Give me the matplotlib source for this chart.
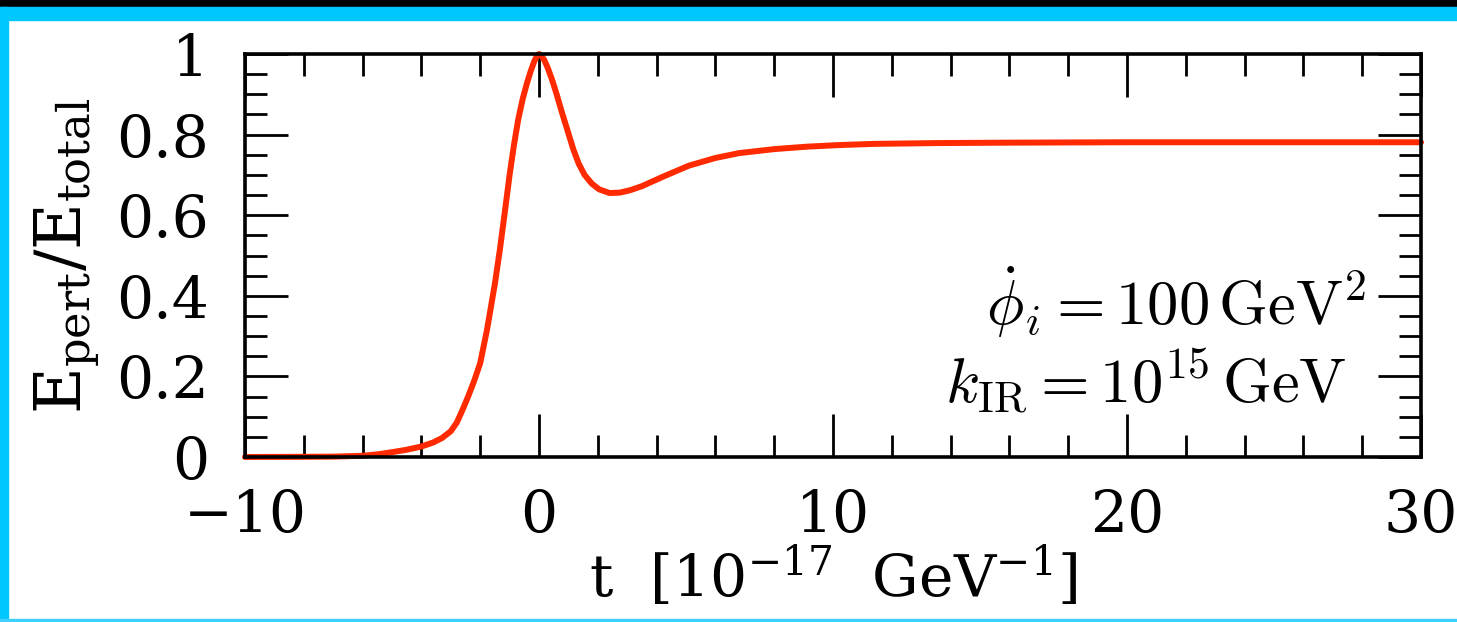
import numpy as np
import matplotlib
matplotlib.use("Agg")
import matplotlib.pyplot as plt
from matplotlib.patches import Rectangle
from matplotlib.ticker import MultipleLocator, FuncFormatter

# values
t = [-10, -8, -7, -6, -5.45, -5, -4.5, -4.0, -3.6, -3.3, -3.0, -2.8, -2.6,
     -2.4, -2.2, -2.0, -1.77, -1.5, -1.33, -1.15, -1.0, -0.85, -0.7, -0.55,
     -0.4, -0.28, -0.16, -0.07, 0.0, 0.08, 0.18, 0.3, 0.45, 0.6, 0.78, 0.95,
     1.16, 1.35, 1.55, 1.8, 2.05, 2.4, 2.75, 3.1, 3.5, 4.2, 5.1, 6.0, 6.8,
     8.0, 9.1, 10.2, 11.4, 13.6, 16, 20, 25, 30]
ratio = [0.0, 0.0005, 0.001, 0.003, 0.007, 0.012, 0.018, 0.026, 0.036, 0.047,
         0.064, 0.085, 0.117, 0.152, 0.19, 0.233, 0.315, 0.43, 0.515, 0.615,
         0.70, 0.775, 0.84, 0.89, 0.93, 0.958, 0.982, 0.995, 1.0, 0.996, 0.985,
         0.965, 0.935, 0.9, 0.855, 0.815, 0.765, 0.728, 0.70, 0.678, 0.664,
         0.655, 0.656, 0.662, 0.672, 0.695, 0.723, 0.742, 0.754, 0.764, 0.77,
         0.774, 0.777, 0.779, 0.78, 0.781, 0.781, 0.781]

fig = plt.figure(figsize=(14.57, 6.22), dpi=100)

# border strips of the slide frame
W, H = 1457, 622
def strip(x0, y0, x1, y1, c):
    fig.patches.append(Rectangle((x0 / W, 1 - y1 / H), (x1 - x0) / W, (y1 - y0) / H,
                                 transform=fig.transFigure, color=c, zorder=0))
strip(0, 0, W, 7, 'black')
strip(0, 7, W, 20, '#00c8ff')
strip(0, 7, 8, H, '#00c8ff')
strip(0, 619, W, H, '#40d0ff')

ax = fig.add_axes([245 / W, 1 - 457 / H, 1176 / W, 403 / H])
ax.plot(t, ratio, color='#ff2a00', lw=4.3, solid_capstyle='round',
        solid_joinstyle='round', clip_on=False)
ax.set_xlim(-10, 30)
ax.set_ylim(0, 1)

ax.xaxis.set_major_locator(MultipleLocator(10))
ax.xaxis.set_minor_locator(MultipleLocator(2))
ax.yaxis.set_major_locator(MultipleLocator(0.2))
ax.yaxis.set_minor_locator(MultipleLocator(0.05))
ax.yaxis.set_major_formatter(FuncFormatter(lambda v, p: '%g' % round(v, 2)))
ax.xaxis.set_major_formatter(FuncFormatter(lambda v, p: ('\u2212%d' % -v) if v < 0 else '%d' % v))

for s in ax.spines.values():
    s.set_linewidth(2.6)
ax.tick_params(which='both', direction='in', top=True, right=True, width=2.0)
ax.tick_params(which='major', length=31, labelsize=42, pad=22)
ax.tick_params(which='minor', length=16)
for lab in ax.get_xticklabels() + ax.get_yticklabels():
    lab.set_family('DejaVu Serif')
ax.tick_params(axis='y', which='major', pad=26)

ax.set_xlabel(r't  [10$^{-17}$  GeV$^{-1}$]', family='DejaVu Serif', fontsize=42,
              math_fontfamily='dejavuserif', labelpad=0)
ax.set_ylabel(r'E$_{\mathrm{pert}}$/E$_{\mathrm{total}}$', family='DejaVu Serif',
              fontsize=46, math_fontfamily='dejavuserif', labelpad=10)

ax.text(0.954, 0.385, r'$\dot{\phi}_i = 100\,\mathrm{GeV}^2$', transform=ax.transAxes,
        ha='right', va='center', fontsize=45, math_fontfamily='cm')
ax.text(0.937, 0.19, r'$k_{\mathrm{IR}} = 10^{15}\,\mathrm{GeV}$', transform=ax.transAxes,
        ha='right', va='center', fontsize=45, math_fontfamily='cm')

fig.savefig('out.png', dpi=100, facecolor='white')
